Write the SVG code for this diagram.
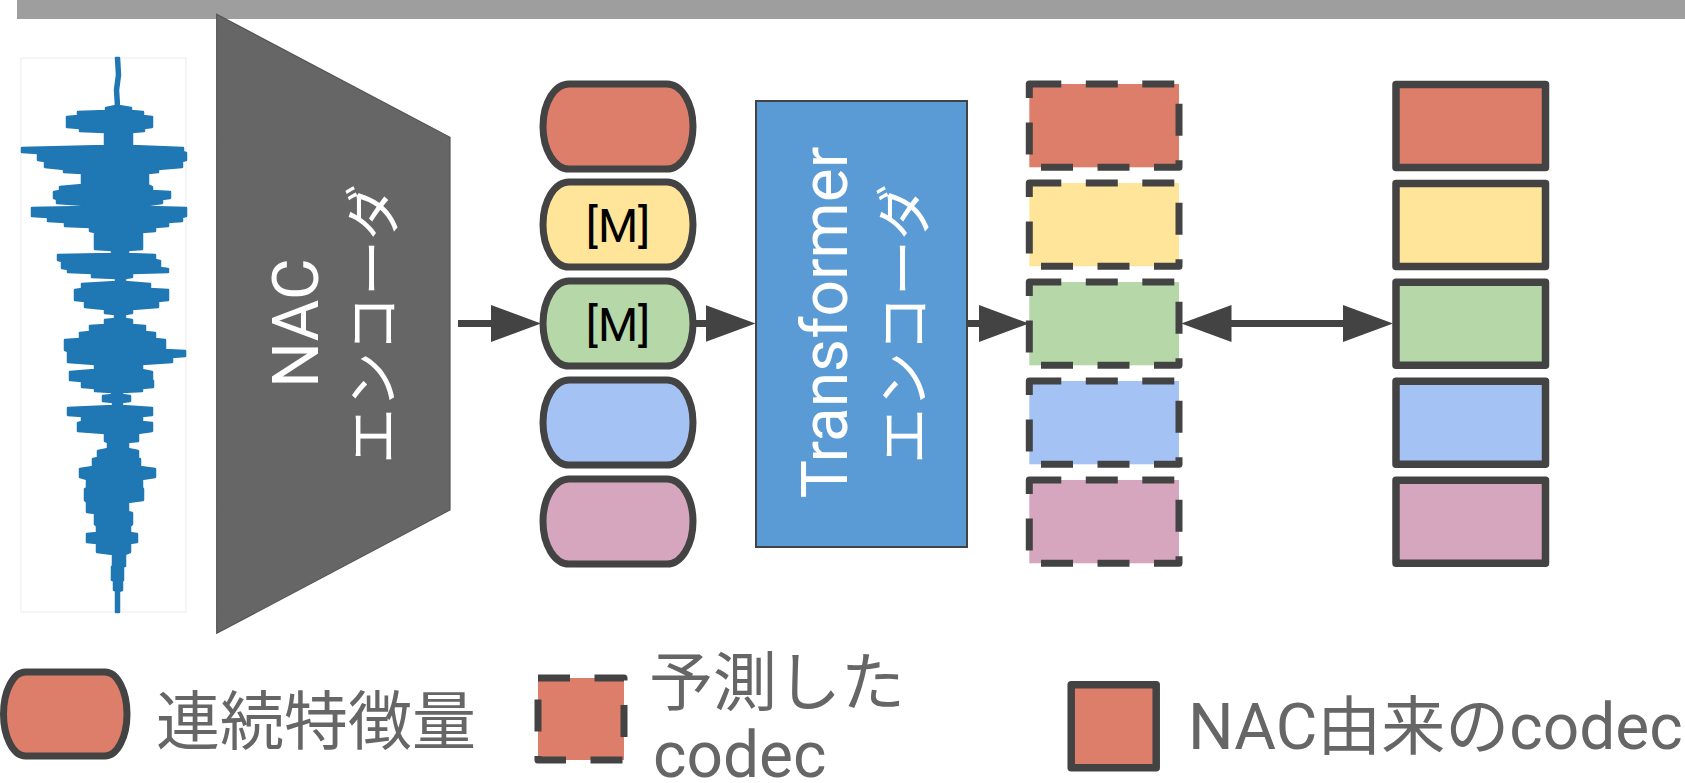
<svg xmlns="http://www.w3.org/2000/svg" width="1685" height="783" viewBox="0 0 1685 783">
  <style>
    text { font-family: Roboto, "Noto Sans CJK JP", sans-serif; }
    .white { fill: #ffffff; }
    .legend { fill: #666666; font-size: 64px; }
    .mask { fill: #000000; font-size: 46px; text-anchor: middle; }
    .pill { stroke: #434343; stroke-width: 7; }
    .pred { stroke: #434343; stroke-width: 7; stroke-dasharray: 32 24.5; stroke-linejoin: round; }
    .code { stroke: #434343; stroke-width: 7.5; stroke-linejoin: round; }
    .c1 { fill: #dd7e6b; }
    .c2 { fill: #ffe599; }
    .c3 { fill: #b6d7a8; }
    .c4 { fill: #a4c2f4; }
    .c5 { fill: #d5a6bd; }
    .edge { stroke: #434343; stroke-width: 7; fill: none; }
  </style>
  <defs>
    <marker id="head" markerUnits="userSpaceOnUse" markerWidth="50" markerHeight="37" refX="10" refY="18.5" orient="auto-start-reverse">
      <path d="M0,0 L50,18.5 L0,37 Z" fill="#434343"/>
    </marker>
  </defs>

  <!-- header strip -->
  <rect x="17" y="0" width="1668" height="19" fill="#9e9e9e"/>

  <!-- input waveform (amplitude envelope drawn as horizontal bands) -->
  <g id="waveform">
    <rect x="21" y="58" width="165" height="554" fill="#ffffff" stroke="#ececec" stroke-width="1"/>
    <path fill="#1f77b4" stroke="#1f77b4" stroke-width="2.5" stroke-linejoin="round" d="M116,58 L117,75 L115,90 L116,106 L106,108 L106,111 L78,112 L78,116 L67,117 L67,127 L80,128 L80,131 L105,132 L105,146 L22,148 L22,152 L38,153 L38,160 L45,161 L45,167 L64,169 L64,172 L82,173 L82,185 L60,187 L60,191 L54,192 L54,198 L57,199 L57,203 L85,205 L85,207 L32,208 L32,216 L48,217 L48,221 L65,222 L65,226 L90,227 L90,231 L95,232 L95,249 L112,250 L112,254 L58,255 L58,260 L62,261 L62,268 L68,269 L68,272 L92,273 L92,277 L116,278 L116,282 L82,284 L82,289 L75,290 L75,300 L85,301 L85,307 L105,309 L105,313 L115,314 L115,319 L105,320 L105,325 L90,326 L90,332 L80,333 L80,339 L65,340 L65,350 L68,351 L68,362 L95,364 L95,370 L70,372 L70,380 L82,381 L82,387 L95,388 L95,391 L112,392 L112,395 L103,396 L103,401 L113,402 L113,406 L68,408 L68,415 L82,416 L82,422 L78,423 L78,431 L105,433 L105,441 L108,442 L108,449 L98,451 L98,458 L93,459 L93,467 L80,469 L80,477 L87,479 L87,488 L85,489 L85,500 L87,502 L87,512 L95,513 L95,524 L97,526 L97,533 L87,534 L87,542 L97,543 L97,552 L113,554 L113,566 L112,567 L112,580 L114,581 L114,590 L116,591 L116,612 L119,612 L119,591 L122,590 L122,581 L123,580 L123,567 L125,566 L125,554 L130,552 L130,543 L137,542 L137,534 L130,533 L130,526 L132,524 L132,513 L128,512 L128,502 L143,500 L143,489 L142,488 L142,479 L155,477 L155,469 L140,467 L140,459 L138,458 L138,451 L128,449 L128,442 L138,441 L138,433 L152,431 L152,423 L142,422 L142,416 L152,415 L152,408 L122,406 L122,402 L130,401 L130,396 L122,395 L122,392 L142,391 L142,388 L153,387 L153,381 L152,380 L152,372 L142,370 L142,364 L172,362 L172,357 L185,356 L185,351 L165,350 L165,340 L155,339 L155,333 L145,332 L145,326 L132,325 L132,320 L125,319 L125,314 L132,313 L132,309 L158,307 L158,301 L168,300 L168,290 L150,289 L150,284 L125,282 L125,278 L132,277 L132,273 L168,272 L168,269 L160,268 L160,261 L155,260 L155,255 L128,254 L128,250 L142,249 L142,232 L155,231 L155,227 L168,226 L168,222 L182,221 L182,217 L186,216 L186,208 L148,207 L148,205 L162,203 L162,199 L170,198 L170,192 L152,191 L152,187 L148,185 L148,173 L158,172 L158,169 L182,167 L182,161 L186,160 L186,153 L183,152 L183,148 L132,146 L132,132 L144,131 L144,128 L152,127 L152,117 L143,116 L143,112 L131,111 L131,108 L119,106 L118,90 L120,75 L119,58 Z"/>
  </g>

  <!-- NAC encoder -->
  <g id="nac-encoder">
    <polygon points="216.7,14.3 450,137.3 450,510 216.7,633.3" fill="#666666" stroke="#555555" stroke-width="1.2"/>
    <text class="white" font-size="64" text-anchor="middle" transform="translate(318.3,323) rotate(-90)">NAC</text>
    <text class="white" font-size="56" text-anchor="middle" transform="translate(393,324) rotate(-90)">エンコーダ</text>
  </g>

  <!-- continuous features (masked) -->
  <g id="features">
    <rect class="pill c1" x="543" y="84" width="150" height="85" rx="26" ry="42.5"/>
    <rect class="pill c2" x="543" y="182" width="150" height="85" rx="26" ry="42.5"/>
    <rect class="pill c3" x="543" y="281" width="150" height="85" rx="26" ry="42.5"/>
    <rect class="pill c4" x="543" y="380" width="150" height="85" rx="26" ry="42.5"/>
    <rect class="pill c5" x="543" y="479" width="150" height="85" rx="26" ry="42.5"/>
    <text class="mask" x="618" y="241.5">[M]</text>
    <text class="mask" x="618" y="340.5">[M]</text>
  </g>

  <!-- Transformer encoder -->
  <g id="transformer-encoder">
    <rect x="756" y="101" width="211" height="446" fill="#5b9bd5" stroke="#434343" stroke-width="2"/>
    <text class="white" font-size="64" text-anchor="middle" transform="translate(847,322.5) rotate(-90)">Transformer</text>
    <text class="white" font-size="56" text-anchor="middle" transform="translate(924,324) rotate(-90)">エンコーダ</text>
  </g>

  <!-- predicted codec -->
  <g id="predicted-codec">
    <rect class="pred c1" x="1029.3" y="84" width="149.7" height="83.3"/>
    <rect class="pred c2" x="1029.3" y="183" width="149.7" height="83.3"/>
    <rect class="pred c3" x="1029.3" y="282" width="149.7" height="83.3"/>
    <rect class="pred c4" x="1029.3" y="381" width="149.7" height="83.3"/>
    <rect class="pred c5" x="1029.3" y="480" width="149.7" height="83.3"/>
  </g>

  <!-- NAC codec targets -->
  <g id="nac-codec">
    <rect class="code c1" x="1396" y="84.5" width="149.5" height="83"/>
    <rect class="code c2" x="1396" y="183.5" width="149.5" height="83"/>
    <rect class="code c3" x="1396" y="282.3" width="149.5" height="83"/>
    <rect class="code c4" x="1396" y="381.3" width="149.5" height="83"/>
    <rect class="code c5" x="1396" y="480.3" width="149.5" height="83"/>
  </g>

  <!-- connectors -->
  <g id="connectors">
    <line class="edge" x1="458" y1="323.5" x2="501" y2="323.5" marker-end="url(#head)"/>
    <line class="edge" x1="693" y1="323.5" x2="715.5" y2="323.5" marker-end="url(#head)"/>
    <line class="edge" x1="967" y1="323.5" x2="989" y2="323.5" marker-end="url(#head)"/>
    <line class="edge" x1="1221.5" y1="323.5" x2="1353" y2="323.5" marker-start="url(#head)" marker-end="url(#head)"/>
  </g>

  <!-- legend -->
  <g id="legend-features">
    <rect class="pill c1" x="3.5" y="672" width="123.5" height="84" rx="22" ry="42"/>
    <text class="legend" x="156" y="744">連続特徴量</text>
  </g>
  <g id="legend-predicted">
    <rect class="pred c1" x="538" y="678" width="86" height="82"/>
    <text class="legend" x="649" y="705" font-size="55">予測した</text>
    <text class="legend" x="653" y="777">codec</text>
  </g>
  <g id="legend-nac">
    <rect class="code c1" x="1071.2" y="684.8" width="85" height="83"/>
    <text class="legend" x="1188" y="749.3">NAC由来のcodec</text>
  </g>
</svg>
